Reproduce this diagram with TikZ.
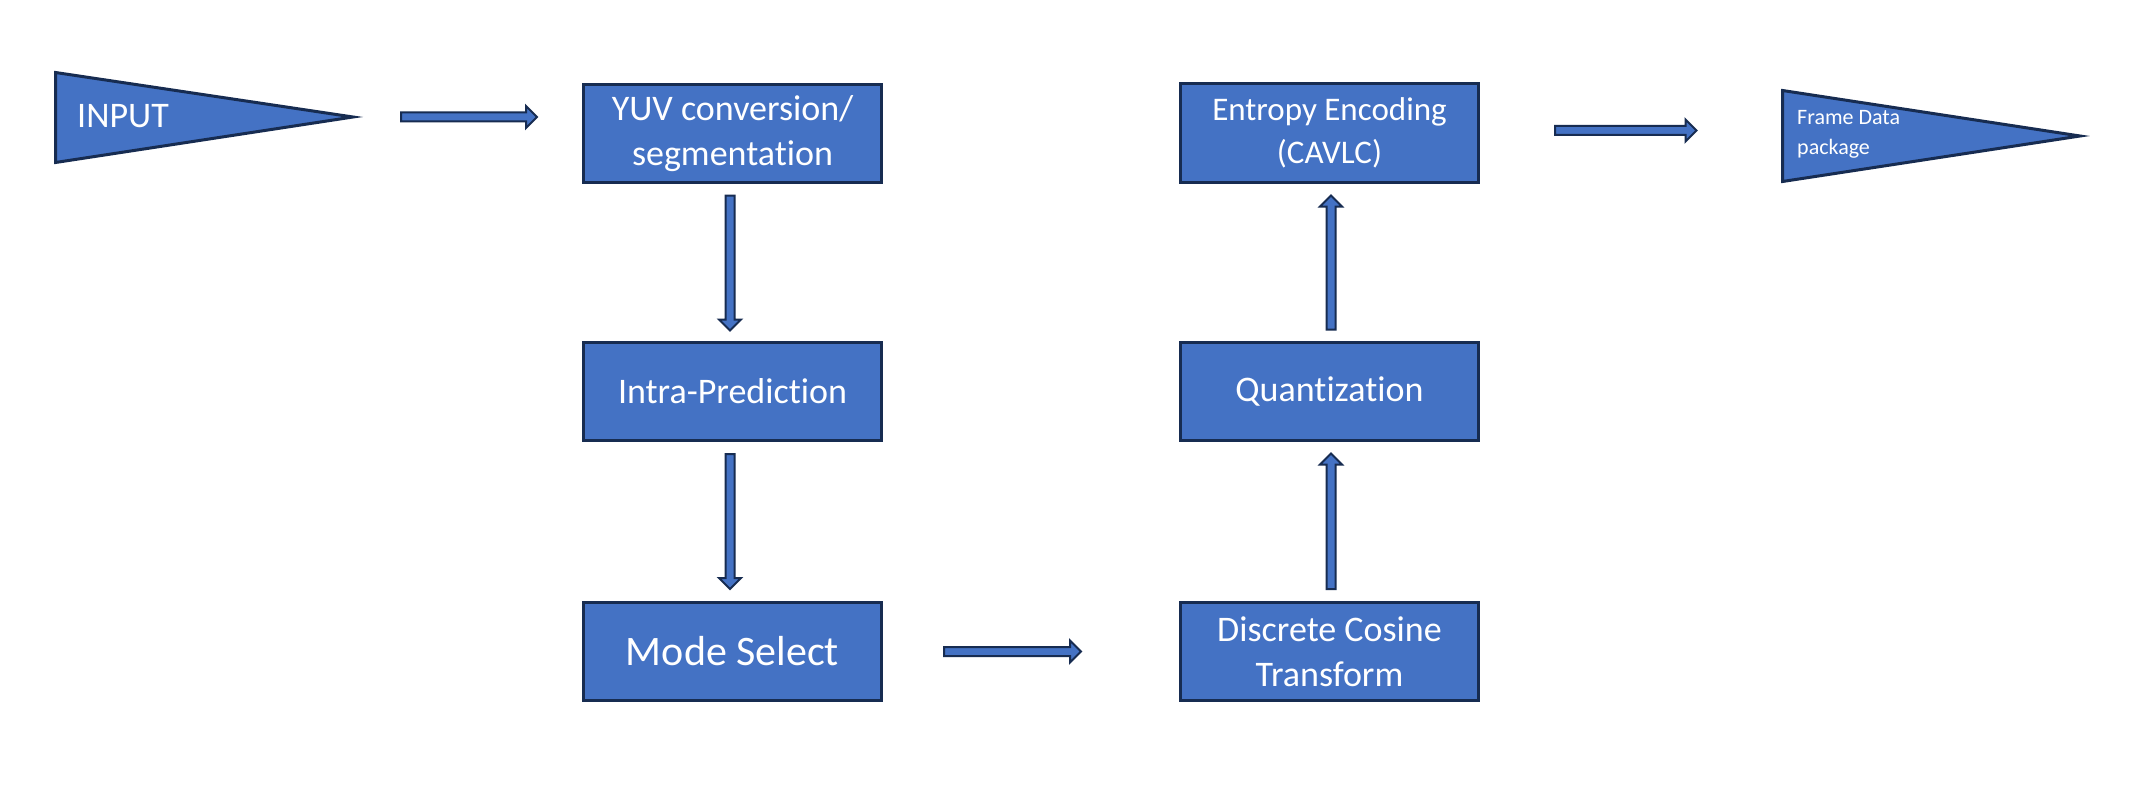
\documentclass[tikz,border=0pt]{standalone}
\usepackage{fontspec}
\setmainfont{Carlito}[Ligatures=NoCommon, RawFeature={-calt}]
\usetikzlibrary{calc}
\definecolor{boxblue}{HTML}{4472C4}
\definecolor{navy}{HTML}{172C51}
\tikzset{
  blk/.style={draw=navy, fill=boxblue, line width=2pt, line join=miter},
  stage/.style={draw=navy, fill=boxblue, line width=3pt, minimum width=298pt,
    minimum height=98pt, inner sep=0pt, text=white, align=center,
    font=\fontsize{36}{45}\selectfont},
  pennant/.style={draw=navy, fill=boxblue, line width=3pt, line join=miter},
  label/.style={text=white, inner sep=0pt},
  harrow/.style 2 args={blk, to path={let \p1=(\tikztostart), \p2=(\tikztotarget) in
     (\x1+#1, \y1+4.5pt) -- (\x2-#2-11pt, \y1+4.5pt) -- (\x2-#2-11pt, \y1+11pt)
     -- (\x2-#2, \y1) -- (\x2-#2-11pt, \y1-11pt) -- (\x2-#2-11pt, \y1-4.5pt)
     -- (\x1+#1, \y1-4.5pt) -- cycle}},
  darrow/.style 2 args={blk, to path={let \p1=(\tikztostart), \p2=(\tikztotarget) in
     (\x1-4.5pt, \y1-#1) -- (\x1-4.5pt, \y2+#2+11pt) -- (\x1-11pt, \y2+#2+11pt)
     -- (\x1, \y2+#2) -- (\x1+11pt, \y2+#2+11pt) -- (\x1+4.5pt, \y2+#2+11pt)
     -- (\x1+4.5pt, \y1-#1) -- cycle}},
  uarrow/.style 2 args={blk, to path={let \p1=(\tikztostart), \p2=(\tikztotarget) in
     (\x1-4.5pt, \y1+#1) -- (\x1-4.5pt, \y2-#2-11pt) -- (\x1-11pt, \y2-#2-11pt)
     -- (\x1, \y2-#2) -- (\x1+11pt, \y2-#2-11pt) -- (\x1+4.5pt, \y2-#2-11pt)
     -- (\x1+4.5pt, \y1+#1) -- cycle}},
}
\begin{document}
\begin{tikzpicture}[x=1pt, y=-1pt]
\useasboundingbox (0,0) rectangle (2145,789);
\fill[white] (0,0) rectangle (2145,789);

% input pennant
\draw[pennant] (55.5,72.5) -- (353,117) -- (55.5,162.5) -- cycle;
\coordinate (inputtip) at (362,117);
\node[label, anchor=base west, font=\fontsize{36}{42}\selectfont] (inputlabel) at (77,128) {INPUT};

% output pennant
\draw[pennant] (1782.5,90.5) -- (2080,136) -- (1782.5,181.5) -- cycle;
\coordinate (framefront) at (1782.5,136);
\node[label, anchor=west, align=left, font=\fontsize{22}{30}\selectfont] (framelabel) at (1797,134.5) {Frame Data\\package};

% stages
\node[stage] (yuv) at (732.5,133.5) {YUV conversion/\\segmentation};
\node[stage] (intra) at (732.5,391.5) {Intra-Prediction};
\node[stage, font=\fontsize{42}{50}\selectfont] (mode) at (732.5,651.5) {Mode Select};
\node[stage] (dct) at (1329.5,651.5) {Discrete Cosine\\Transform};
\node[stage] (quant) at (1329.5,391.5) {Quantization};
\node[stage, font=\fontsize{33}{43}\selectfont] (entropy) at (1329.5,133) {Entropy Encoding\\(CAVLC)};

% connectors
\draw[harrow={39pt}{45pt}] (inputtip) to (yuv.west);
\draw[darrow={11.5pt}{10.5pt}] ([xshift=-2.5pt]yuv.south) to ([xshift=-2.5pt]intra.north);
\draw[darrow={12pt}{12pt}] ([xshift=-2.5pt]intra.south) to ([xshift=-2.5pt]mode.north);
\draw[harrow={61pt}{98pt}] (mode.east) to (dct.west);
\draw[uarrow={12pt}{11.5pt}] ([xshift=1.5pt]dct.north) to ([xshift=1.5pt]quant.south);
\draw[uarrow={11.5pt}{12pt}] ([xshift=1.5pt]quant.north) to ([xshift=1.5pt]entropy.south);
\draw[harrow={75pt}{86pt}] ([yshift=2.5pt]entropy.east) to (framefront);
\end{tikzpicture}
\end{document}
